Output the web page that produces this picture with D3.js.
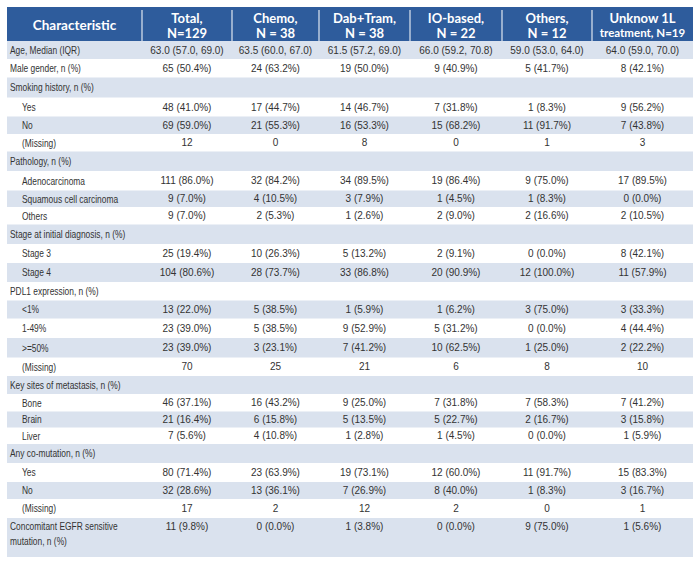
<!DOCTYPE html>
<html>
<head>
<meta charset="utf-8">
<script src="https://cdn.jsdelivr.net/npm/d3@7/dist/d3.min.js"></script>
<style>
  html, body { margin: 0; padding: 0; background: #ffffff; }
  svg { display: block; }
</style>
</head>
<body>
<script>
// ---------------- DATA ----------------
const headers = [
  ["Characteristic"],
  ["Total,", "N=129"],
  ["Chemo,", "N = 38"],
  ["Dab+Tram,", "N = 38"],
  ["IO-based,", "N = 22"],
  ["Others,", "N = 12"],
  ["Unknow 1L", "treatment, N=19"]
];

const rowLabels = [
  "Age, Median (IQR)", "Male gender, n (%)", "Smoking history, n (%)", "Yes", "No", "(Missing)",
  "Pathology, n (%)", "Adenocarcinoma", "Squamous cell carcinoma", "Others",
  "Stage at initial diagnosis, n (%)", "Stage 3", "Stage 4",
  "PDL1 expression, n (%)", "<1%", "1-49%", ">=50%", "(Missing)",
  "Key sites of metastasis, n (%)", "Bone", "Brain", "Liver",
  "Any co-mutation, n (%)", "Yes", "No", "(Missing)",
  "Concomitant EGFR sensitive|mutation, n (%)"
];
// 0 = top-level characteristic, 1 = sub-category
const rowLevels = [0,0,0,1,1,1,0,1,1,1,0,1,1,0,1,1,1,1,0,1,1,1,0,1,1,1,0];

const totalVals = ["63.0 (57.0, 69.0)","65 (50.4%)","","48 (41.0%)","69 (59.0%)","12","","111 (86.0%)","9 (7.0%)","9 (7.0%)","","25 (19.4%)","104 (80.6%)","","13 (22.0%)","23 (39.0%)","23 (39.0%)","70","","46 (37.1%)","21 (16.4%)","7 (5.6%)","","80 (71.4%)","32 (28.6%)","17","11 (9.8%)"];
const chemoVals = ["63.5 (60.0, 67.0)","24 (63.2%)","","17 (44.7%)","21 (55.3%)","0","","32 (84.2%)","4 (10.5%)","2 (5.3%)","","10 (26.3%)","28 (73.7%)","","5 (38.5%)","5 (38.5%)","3 (23.1%)","25","","16 (43.2%)","6 (15.8%)","4 (10.8%)","","23 (63.9%)","13 (36.1%)","2","0 (0.0%)"];
const dabTramVals = ["61.5 (57.2, 69.0)","19 (50.0%)","","14 (46.7%)","16 (53.3%)","8","","34 (89.5%)","3 (7.9%)","1 (2.6%)","","5 (13.2%)","33 (86.8%)","","1 (5.9%)","9 (52.9%)","7 (41.2%)","21","","9 (25.0%)","5 (13.5%)","1 (2.8%)","","19 (73.1%)","7 (26.9%)","12","1 (3.8%)"];
const ioVals = ["66.0 (59.2, 70.8)","9 (40.9%)","","7 (31.8%)","15 (68.2%)","0","","19 (86.4%)","1 (4.5%)","2 (9.0%)","","2 (9.1%)","20 (90.9%)","","1 (6.2%)","5 (31.2%)","10 (62.5%)","6","","7 (31.8%)","5 (22.7%)","1 (4.5%)","","12 (60.0%)","8 (40.0%)","2","0 (0.0%)"];
const othersVals = ["59.0 (53.0, 64.0)","5 (41.7%)","","1 (8.3%)","11 (91.7%)","1","","9 (75.0%)","1 (8.3%)","2 (16.6%)","","0 (0.0%)","12 (100.0%)","","3 (75.0%)","0 (0.0%)","1 (25.0%)","8","","7 (58.3%)","2 (16.7%)","0 (0.0%)","","11 (91.7%)","1 (8.3%)","0","9 (75.0%)"];
const unknownVals = ["64.0 (59.0, 70.0)","8 (42.1%)","","9 (56.2%)","7 (43.8%)","3","","17 (89.5%)","0 (0.0%)","2 (10.5%)","","8 (42.1%)","11 (57.9%)","","3 (33.3%)","4 (44.4%)","2 (22.2%)","10","","7 (41.2%)","3 (15.8%)","1 (5.9%)","","15 (83.3%)","3 (16.7%)","1","1 (5.6%)"];

const valueColumns = [totalVals, chemoVals, dabTramVals, ioVals, othersVals, unknownVals];

// ---------------- LAYOUT ----------------
const W = 700, H = 563;
const colEdges = [7, 142, 232, 319, 410, 502, 592, 693];
const headerTop = 7, headerBottom = 41;
const rowHeights = [18,18.5,20,19,17.5,17.5,19.5,19.5,16.5,17.5,19.5,19,19,18.5,18,19.5,19.5,18.5,18,17.5,16,16.5,19,19,17,19,39];

const headerBlue = "#2e5c9c";
const shadeBlue = "#dae2ee";
const textColor = "#333333";
const bodyFont = "'Liberation Sans', Arial, sans-serif";
const headFont = "Lato, 'Liberation Sans', sans-serif";
const labelSquash = 0.8;

const svg = d3.select("body").append("svg").attr("width", W).attr("height", H);

// Column scale (ordinal index -> left / right edge)
const colIdx = d3.range(headers.length);
const xLeft = d3.scaleOrdinal().domain(colIdx).range(colEdges.slice(0, -1));
const xRight = d3.scaleOrdinal().domain(colIdx).range(colEdges.slice(1));
const xCenter = i => (xLeft(i) + xRight(i)) / 2;

// Row scale (index -> top), from cumulative heights
const rowTops = [];
rowHeights.reduce((acc, h) => { rowTops.push(acc); return acc + h; }, headerBottom);
const yTop = d3.scaleOrdinal().domain(d3.range(rowLabels.length)).range(rowTops);
const yH = d3.scaleOrdinal().domain(d3.range(rowLabels.length)).range(rowHeights);

// Header background
svg.append("rect")
  .attr("x", colEdges[0]).attr("y", headerTop)
  .attr("width", colEdges[colEdges.length - 1] - colEdges[0])
  .attr("height", headerBottom - headerTop)
  .attr("fill", headerBlue);

// Header separators
svg.selectAll("line.hsep").data(colIdx.slice(1)).join("line")
  .attr("class", "hsep")
  .attr("x1", d => xLeft(d)).attr("x2", d => xLeft(d))
  .attr("y1", headerTop + 3).attr("y2", headerBottom)
  .attr("stroke", "#ffffff").attr("stroke-width", 1.2).attr("stroke-opacity", 0.85);

// Header text
const hg = svg.selectAll("g.head").data(headers).join("g").attr("class", "head");
hg.each(function(lines, i) {
  const g = d3.select(this);
  const cy = (headerTop + headerBottom) / 2 + 1;
  const lh = 15;
  lines.forEach((ln, k) => {
    g.append("text")
      .attr("x", xCenter(i))
      .attr("y", cy + (k - (lines.length - 1) / 2) * lh)
      .attr("text-anchor", "middle")
      .attr("dominant-baseline", "central")
      .attr("fill", "#ffffff")
      .attr("font-family", headFont)
      .attr("font-weight", "bold")
      .attr("font-size", lines.length === 1 ? 13.5 : (ln.length > 12 ? 11.5 : 13))
      .text(ln);
  });
});

// Row shading (alternating)
svg.selectAll("rect.shade").data(d3.range(rowLabels.length).filter(i => i % 2 === 0)).join("rect")
  .attr("class", "shade")
  .attr("x", colEdges[0])
  .attr("y", d => yTop(d))
  .attr("width", colEdges[colEdges.length - 1] - colEdges[0])
  .attr("height", d => yH(d))
  .attr("fill", shadeBlue);

// Row labels (horizontally condensed to imitate the narrow original face)
svg.selectAll("text.rlab").data(rowLabels).join("text")
  .attr("class", "rlab")
  .attr("x", (d, i) => rowLevels[i] === 1 ? 22 : 10)
  .attr("y", (d, i) => yTop(i) + yH(i) / 2)
  .attr("transform", (d, i) => {
    const x0 = rowLevels[i] === 1 ? 22 : 10;
    return `translate(${x0},0) scale(${labelSquash},1) translate(${-x0},0)`;
  })
  .attr("dominant-baseline", "central")
  .attr("fill", textColor)
  .attr("font-family", bodyFont)
  .attr("font-size", 10.5)
  .each(function(d, i) {
    const parts = d.split("|");
    const t = d3.select(this);
    if (parts.length === 1) { t.text(d); return; }
    parts.forEach((p, k) => {
      t.append("tspan").attr("x", 10)
        .attr("y", yTop(i) + 8 + k * 15)
        .text(p);
    });
  });

// Values
valueColumns.forEach((vals, c) => {
  svg.selectAll("text.v" + c).data(vals).join("text")
    .attr("class", "v" + c)
    .attr("x", xCenter(c + 1))
    .attr("y", (d, i) => i === rowLabels.length - 1 ? yTop(i) + 8 : yTop(i) + yH(i) / 2)
    .attr("text-anchor", "middle")
    .attr("dominant-baseline", "central")
    .attr("fill", textColor)
    .attr("font-family", bodyFont)
    .attr("font-size", 10)
    .text(d => d);
});
</script>
</body>
</html>
